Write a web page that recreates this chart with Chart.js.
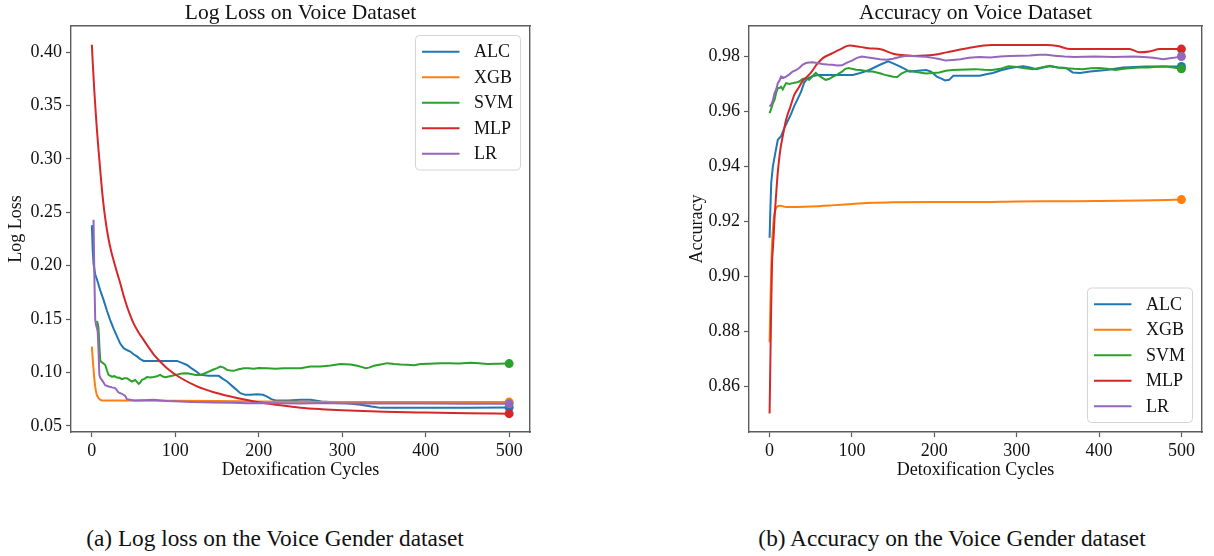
<!DOCTYPE html>
<html>
<head>
<meta charset="utf-8">
<title>Voice Dataset: Log Loss and Accuracy</title>
<script src="https://cdn.jsdelivr.net/npm/chart.js@4.4.1/dist/chart.umd.min.js"></script>
<style>
  html, body { margin: 0; padding: 0; background: #fff; }
  body { width: 1214px; height: 556px; position: relative; overflow: hidden; font-family: "Liberation Serif", "Times New Roman", serif; }
  canvas { position: absolute; top: 0; }
  #lossCanvas { left: 0; }
  #accCanvas { left: 680px; }
  .caption { position: absolute; top: 523px; font-size: 23.3px; color: #111; white-space: nowrap; transform: translateX(-50%); line-height: 30px; }
  #capA { left: 275px; }
  #capB { left: 952px; }
</style>
</head>
<body>
<canvas id="lossCanvas" width="560" height="490"></canvas>
<canvas id="accCanvas" width="534" height="490"></canvas>
<div class="caption" id="capA">(a) Log loss on the Voice Gender dataset</div>
<div class="caption" id="capB">(b) Accuracy on the Voice Gender dataset</div>
<script>
// ---- shared axis values ----
const modelNames = ['ALC', 'XGB', 'SVM', 'MLP', 'LR'];
const modelColors = ['#1f77b4', '#ff7f0e', '#2ca02c', '#d62728', '#9467bd'];
const cycleTicks = [0, 100, 200, 300, 400, 500];
const lossTicks = [0.05, 0.10, 0.15, 0.20, 0.25, 0.30, 0.35, 0.40];
const accTicks = [0.86, 0.88, 0.90, 0.92, 0.94, 0.96, 0.98];

// ---- log loss per detoxification cycle ----
const lossALC_x = [0,1,2,4,7,10,14,18,22,26,30,34,38,42,46,50,54,58,62,80,102,108,114,119,124,130,140,152,157,162,170,178,184,190,198,205,210,215,220,235,250,262,275,290,300,322,335,346,360,400,450,500];
const lossALC_y = [0.238,0.215,0.202,0.192,0.185,0.177,0.168,0.158,0.149,0.141,0.134,0.127,0.1227,0.121,0.1196,0.117,0.115,0.1125,0.1108,0.1108,0.1108,0.109,0.107,0.104,0.1015,0.0977,0.097,0.0968,0.094,0.0915,0.086,0.0806,0.079,0.079,0.0796,0.079,0.0774,0.075,0.0737,0.0738,0.0745,0.0745,0.0728,0.072,0.0715,0.0697,0.068,0.0668,0.0668,0.067,0.067,0.0671];

const lossXGB_x = [0,1,2,3,4,5,6,8,10,12,30,100,200,300,400,500];
const lossXGB_y = [0.1242,0.113,0.103,0.094,0.087,0.082,0.079,0.076,0.0745,0.0738,0.0738,0.0735,0.0728,0.0724,0.0722,0.0722];

const lossSVM_x = [6,7,8,9,10,11,13,16,18,20,24,27,30,33,36,39,42,45,48,52,56,58,60,63,66,70,74,78,82,85,88,92,96,100,104,108,114,119,124,130,135,140,145,150,154,158,162,166,170,176,182,188,194,200,210,220,230,240,250,262,274,286,298,310,318,324,328,332,338,346,354,362,370,378,386,394,404,418,428,440,454,464,474,486,500];
const lossSVM_y = [0.148,0.146,0.141,0.125,0.112,0.110,0.109,0.107,0.102,0.0977,0.096,0.0965,0.0952,0.095,0.0937,0.0945,0.0946,0.093,0.0915,0.093,0.0893,0.0905,0.0931,0.094,0.0956,0.0952,0.0958,0.0965,0.0977,0.0962,0.0956,0.0962,0.0968,0.0975,0.0984,0.099,0.0993,0.0985,0.0977,0.0977,0.099,0.1008,0.1025,0.104,0.1055,0.1045,0.1024,0.1018,0.1015,0.103,0.104,0.1038,0.1035,0.1042,0.104,0.1035,0.1038,0.104,0.104,0.1055,0.1055,0.1065,0.1078,0.1075,0.1062,0.105,0.104,0.1045,0.1062,0.1075,0.1087,0.108,0.1075,0.1072,0.1068,0.1078,0.1082,0.1087,0.1085,0.1084,0.109,0.1085,0.108,0.1082,0.1083];

const lossMLP_x = [0,1,2,3,4,5,6,8,10,12,14,17,20,23,26,30,34,38,42,46,50,56,62,68,74,82,90,106,126,146,166,186,206,226,250,275,300,350,400,450,500];
const lossMLP_y = [0.407,0.391,0.377,0.363,0.351,0.339,0.328,0.308,0.290,0.272,0.257,0.239,0.225,0.214,0.205,0.194,0.1836,0.172,0.162,0.1535,0.146,0.1375,0.1305,0.1235,0.117,0.110,0.104,0.095,0.087,0.0815,0.0775,0.0742,0.0714,0.0692,0.067,0.0656,0.0646,0.0632,0.0624,0.0618,0.0614];

const lossLR_x = [2,3,4,5,6,7,8,9,10,12,16,20,24,28,32,36,40,42,46,50,60,74,90,106,120,146,170,186,200,226,250,280,300,350,400,450,500];
const lossLR_y = [0.243,0.19,0.15,0.1445,0.142,0.138,0.120,0.0977,0.095,0.093,0.088,0.0868,0.086,0.0853,0.0812,0.080,0.078,0.075,0.0745,0.0737,0.074,0.0743,0.0733,0.0728,0.0722,0.0718,0.0715,0.0712,0.0714,0.0712,0.071,0.0713,0.071,0.0709,0.0708,0.0707,0.0706];

// ---- accuracy per detoxification cycle ----
const accALC_x = [0,1,2,4,7,10,14,18,22,26,30,34,38,42,46,52,60,80,101,110,121,134,144,150,158,164,170,180,190,196,203,208,213,218,223,240,255,263,271,281,292,300,308,316,324,332,340,350,360,368,377,389,409,429,457,480,500];
const accALC_y = [0.914,0.925,0.934,0.940,0.945,0.9497,0.951,0.954,0.9565,0.959,0.962,0.9645,0.967,0.9705,0.972,0.9728,0.9733,0.9733,0.9733,0.974,0.9751,0.977,0.9782,0.9775,0.9764,0.9755,0.9745,0.9748,0.9751,0.9745,0.9727,0.972,0.9713,0.9715,0.973,0.973,0.973,0.9735,0.974,0.975,0.9758,0.9762,0.9764,0.976,0.9754,0.976,0.9764,0.976,0.9758,0.9742,0.974,0.9745,0.9751,0.976,0.9764,0.9764,0.9764];

const accXGB_x = [0,1,2,3,4,5,6,8,10,13,20,50,75,100,125,150,200,250,300,350,400,450,500];
const accXGB_y = [0.876,0.89,0.903,0.912,0.917,0.921,0.923,0.9248,0.9255,0.9257,0.9252,0.9254,0.9258,0.9263,0.9268,0.9269,0.927,0.927,0.9272,0.9273,0.9274,0.9276,0.9279];

const accSVM_x = [0,2,4,6,8,10,12,14,16,18,20,24,28,32,36,40,44,48,52,56,60,64,68,72,76,80,84,88,92,96,100,105,110,115,120,125,130,135,140,145,150,155,160,165,170,176,182,190,198,206,214,222,230,240,250,260,270,280,290,300,310,320,330,340,350,360,370,380,390,400,410,420,430,440,450,460,470,480,490,500];
const accSVM_y = [0.9594,0.961,0.963,0.9642,0.9668,0.9685,0.9685,0.969,0.968,0.9692,0.9703,0.970,0.9703,0.9705,0.9709,0.9718,0.972,0.9715,0.9728,0.974,0.973,0.9722,0.9715,0.9718,0.9725,0.973,0.9738,0.9745,0.9755,0.9758,0.9755,0.9752,0.9751,0.9748,0.9745,0.9745,0.9742,0.9738,0.9733,0.973,0.9726,0.9725,0.9738,0.9745,0.9748,0.9744,0.9742,0.9738,0.974,0.9742,0.9748,0.9751,0.9752,0.9753,0.9754,0.9752,0.9751,0.9755,0.9764,0.9762,0.9757,0.9754,0.976,0.9766,0.976,0.9757,0.9755,0.9754,0.9757,0.9758,0.9755,0.9751,0.9755,0.9758,0.976,0.976,0.9763,0.9764,0.976,0.9755];

const accMLP_x = [0,1,2,3,4,5,6,8,10,13,16,20,25,30,35,40,45,50,57,65,75,85,97,110,120,135,150,160,175,200,215,240,270,300,336,350,365,400,437,449,461,474,500];
const accMLP_y = [0.85,0.87,0.89,0.905,0.91,0.915,0.921,0.93,0.938,0.946,0.951,0.957,0.9615,0.966,0.9685,0.971,0.9725,0.974,0.977,0.9795,0.981,0.9825,0.984,0.9835,0.983,0.9826,0.981,0.9805,0.9802,0.9806,0.9815,0.983,0.9842,0.9842,0.9842,0.9838,0.9827,0.9827,0.9827,0.9815,0.9818,0.9827,0.9827];

const accLR_x = [0,2,4,6,8,10,12,14,17,20,24,28,32,36,40,44,48,52,58,64,70,76,82,88,94,100,106,112,118,126,134,142,150,158,166,174,182,190,198,206,214,222,232,242,255,268,280,292,304,316,328,336,346,358,370,382,394,406,418,430,442,454,466,478,490,500];
const accLR_y = [0.9618,0.9625,0.964,0.9667,0.968,0.9703,0.9712,0.9727,0.9722,0.9727,0.9735,0.9745,0.975,0.9758,0.977,0.9776,0.9778,0.9779,0.9776,0.9773,0.9771,0.977,0.9767,0.9768,0.9778,0.9785,0.9795,0.98,0.9797,0.9794,0.979,0.9788,0.9792,0.9798,0.9803,0.9802,0.98,0.9799,0.9795,0.9791,0.9785,0.9787,0.979,0.9795,0.9798,0.9796,0.98,0.9802,0.9803,0.9804,0.9806,0.9806,0.9803,0.98,0.9798,0.9799,0.98,0.9799,0.9798,0.9799,0.98,0.9798,0.9795,0.979,0.9795,0.98];

// ---- drawing helpers ----
const SERIF = '"Liberation Serif", "Times New Roman", serif';
const SPINE = '#5c5c5c';
const TEXT_SIZE = 18;

function toPoints(xs, ys) {
  return xs.map((x, i) => ({ x: x, y: ys[i] }));
}

function lineSet(i, xs, ys, smooth) {
  return {
    label: modelNames[i],
    data: toPoints(xs, ys),
    borderColor: modelColors[i],
    backgroundColor: modelColors[i],
    borderWidth: 2,
    tension: 0,
    cubicInterpolationMode: smooth ? 'monotone' : 'default',
    // a dot marks the final cycle only
    pointRadius: ctx => (ctx.dataIndex === ctx.dataset.data.length - 1 ? 4.5 : 0),
    pointHoverRadius: 0,
    pointBorderWidth: 0,
    fill: false,
    order: 5 - i,
    xAxisID: 'x',
    yAxisID: 'y'
  };
}

// legend drawn inside the plotting area, in a rounded translucent box
const boxLegend = {
  id: 'boxLegend',
  afterDraw(chart, args, opts) {
    const { ctx, chartArea } = chart;
    const sets = chart.data.datasets;
    const rowH = 25.5, padY = 3.5, padL = 6.5, sample = 37.5, gap = 14.5, padR = 7.5, inset = 9.5;
    ctx.save();
    ctx.font = TEXT_SIZE + 'px ' + SERIF;
    const textW = Math.max(...sets.map(d => ctx.measureText(d.label).width));
    const w = padL + sample + gap + textW + padR;
    const h = sets.length * rowH + 2 * padY;
    const x = chartArea.right - inset - w;
    const y = opts.corner === 'upper' ? chartArea.top + inset : chartArea.bottom - inset - h;
    ctx.beginPath();
    ctx.roundRect(x, y, w, h, 4);
    ctx.fillStyle = 'rgba(255,255,255,0.85)';
    ctx.fill();
    ctx.strokeStyle = '#d4d4d4';
    ctx.lineWidth = 1;
    ctx.stroke();
    ctx.textBaseline = 'middle';
    ctx.textAlign = 'left';
    sets.forEach((d, i) => {
      const cy = y + padY + rowH * (i + 0.5);
      ctx.beginPath();
      ctx.moveTo(x + padL, cy);
      ctx.lineTo(x + padL + sample, cy);
      ctx.strokeStyle = d.borderColor;
      ctx.lineWidth = 2;
      ctx.stroke();
      ctx.fillStyle = '#111';
      ctx.fillText(d.label, x + padL + sample + gap, cy + 1);
    });
    ctx.restore();
  }
};

function buildScales(cfg) {
  const tickFont = { family: SERIF, size: TEXT_SIZE };
  const titleFont = { family: SERIF, size: TEXT_SIZE };
  const frame = { display: true, color: SPINE, width: 1.4 };
  return {
    x: {
      type: 'linear', position: 'bottom', min: -25, max: 525,
      afterBuildTicks: s => { s.ticks = cycleTicks.map(v => ({ value: v })); },
      ticks: { font: tickFont, color: '#111', padding: 3, maxRotation: 0, callback: v => String(v) },
      grid: { display: true, drawOnChartArea: false, drawTicks: true, tickLength: 5, tickColor: SPINE, tickWidth: 1.2 },
      border: frame,
      title: { display: true, text: 'Detoxification Cycles', font: titleFont, color: '#111', padding: { top: 0, bottom: 9 } },
      afterFit: s => { s.height = 58; }
    },
    xTop: {
      type: 'linear', position: 'top', min: -25, max: 525,
      ticks: { display: false },
      grid: { display: true, drawOnChartArea: false, drawTicks: false },
      border: frame,
      title: { display: true, text: cfg.title, font: { family: SERIF, size: 21.5 }, color: '#111', padding: { top: 0, bottom: 0 } },
      afterFit: s => { s.height = 26; }
    },
    y: {
      type: 'linear', position: 'left', min: cfg.yMin, max: cfg.yMax,
      afterBuildTicks: s => { s.ticks = cfg.yTicks.map(v => ({ value: v })); },
      ticks: { font: tickFont, color: '#111', padding: 4, callback: v => v.toFixed(2) },
      grid: { display: true, drawOnChartArea: false, drawTicks: true, tickLength: 5, tickColor: SPINE, tickWidth: 1.2 },
      border: frame,
      title: { display: true, text: cfg.yTitle, font: titleFont, color: '#111', padding: { top: cfg.yTitlePad, bottom: 0 } },
      afterFit: s => { s.width = cfg.yWidth; }
    },
    yRight: {
      type: 'linear', position: 'right', min: cfg.yMin, max: cfg.yMax,
      ticks: { display: false },
      grid: { display: true, drawOnChartArea: false, drawTicks: false },
      border: frame,
      afterFit: s => { s.width = 0; }
    }
  };
}

function makeChart(canvasId, datasets, cfg) {
  return new Chart(document.getElementById(canvasId), {
    type: 'line',
    data: { datasets: datasets },
    options: {
      responsive: false,
      animation: false,
      devicePixelRatio: 1,
      layout: { padding: { left: 0, top: 0, bottom: 0, right: cfg.padRight } },
      plugins: {
        legend: { display: false },
        tooltip: { enabled: false },
        title: { display: false },
        boxLegend: { corner: cfg.legendCorner }
      },
      scales: buildScales(cfg)
    },
    plugins: [boxLegend]
  });
}

makeChart('lossCanvas', [
  lineSet(0, lossALC_x, lossALC_y, false),
  lineSet(1, lossXGB_x, lossXGB_y, true),
  lineSet(2, lossSVM_x, lossSVM_y, false),
  lineSet(3, lossMLP_x, lossMLP_y, true),
  lineSet(4, lossLR_x, lossLR_y, false)
], {
  title: 'Log Loss on Voice Dataset', yTitle: 'Log Loss',
  yMin: 0.0442, yMax: 0.4245, yTicks: lossTicks,
  yWidth: 71, yTitlePad: 5, padRight: 30, legendCorner: 'upper'
});

makeChart('accCanvas', [
  lineSet(0, accALC_x, accALC_y, false),
  lineSet(1, accXGB_x, accXGB_y, true),
  lineSet(2, accSVM_x, accSVM_y, false),
  lineSet(3, accMLP_x, accMLP_y, true),
  lineSet(4, accLR_x, accLR_y, false)
], {
  title: 'Accuracy on Voice Dataset', yTitle: 'Accuracy',
  yMin: 0.8433, yMax: 0.9911, yTicks: accTicks,
  yWidth: 69, yTitlePad: 6, padRight: 12, legendCorner: 'lower'
});
</script>
</body>
</html>
